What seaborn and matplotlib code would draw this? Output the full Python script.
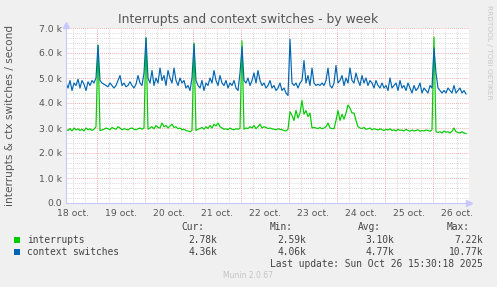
import numpy as np
import pandas as pd
import matplotlib
matplotlib.use("Agg")
import matplotlib.pyplot as plt
from matplotlib.patches import Rectangle
import seaborn as sns

# ---------------- data ----------------
title = "Interrupts and context switches - by week"
ylabel = "interrupts & ctx switches / second"
day_labels = ["18 oct.", "19 oct.", "20 oct.", "21 oct.", "22 oct.",
              "23 oct.", "24 oct.", "25 oct.", "26 oct."]
series_names = ["interrupts", "context switches"]
series_colors = ["#00cc00", "#0066b3"]
ytick_values = [0, 1000, 2000, 3000, 4000, 5000, 6000, 7000]
ytick_labels = ["0.0", "1.0 k", "2.0 k", "3.0 k", "4.0 k", "5.0 k", "6.0 k", "7.0 k"]

# hourly samples (thousands / s), starting 18 oct 08:30
interrupts_k = (
    [2.95, 2.9, 2.98, 2.88, 3.0, 2.92, 2.97, 2.9, 2.95, 2.88, 3.0, 2.93, 2.97, 2.9, 2.95, 3.05]
    + [6.32, 2.9]
    + [2.92, 2.95, 3.0, 2.97, 2.93, 3.02, 2.98, 2.95, 3.05, 3.0, 2.93, 2.97, 2.95, 2.92, 2.98, 3.0,
       2.95, 2.93, 2.97, 3.0, 2.95, 3.0]
    + [6.61, 2.95]
    + [3.0, 3.05, 2.97, 3.1, 3.02, 3.0, 3.2, 3.05, 3.1, 3.0, 3.08, 3.15, 3.02, 3.05, 2.97, 3.0,
       2.93, 2.95, 2.9, 2.88, 2.85, 2.9]
    + [6.4, 2.9]
    + [2.95, 2.98, 3.02, 2.95, 3.05, 2.98, 3.1, 3.0, 3.15, 3.08, 3.2, 3.05, 3.0, 2.95, 2.97, 2.93,
       3.0, 2.95, 2.93, 2.97, 2.95, 2.98]
    + [6.48, 2.95]
    + [3.0, 2.98, 3.05, 3.0, 3.1, 2.97, 3.05, 3.15, 3.0, 3.05, 3.02, 2.98, 3.0, 2.97, 2.95, 2.93,
       2.97, 2.95, 2.93, 2.9, 2.88, 2.95]
    + [3.65, 3.5, 3.3, 3.7, 3.4, 3.6, 4.1, 3.55, 3.7, 3.45, 3.6, 3.0]
    + [3.02, 3.0, 2.98, 3.02, 2.97, 3.0, 3.05, 3.2, 3.0, 2.98, 2.97]
    + [3.3, 3.7, 3.3, 3.55, 3.35, 3.6, 3.92, 3.8, 3.6, 3.6, 3.3, 3.05]
    + [3.0, 2.98, 3.02, 2.95, 2.97, 3.0, 2.93, 2.97, 2.95, 2.92, 2.97, 2.93, 2.9, 2.95, 2.92, 2.97,
       2.9, 2.93, 2.88, 2.95, 2.9, 2.92, 2.88, 2.95, 2.9, 2.87, 2.92, 2.88, 2.9, 2.93, 2.87, 2.9,
       2.88, 2.92, 2.9, 2.87, 2.93]
    + [6.64, 2.85]
    + [2.82, 2.85, 2.8, 2.88, 2.83, 2.85, 2.8, 2.87, 3.0, 2.85, 2.82, 2.8, 2.85, 2.8, 2.78]
)
context_switches_k = (
    [4.8, 4.6, 4.9, 4.5, 4.8, 4.7, 4.95, 4.6, 4.9, 4.75, 4.5, 4.85, 4.7, 4.9, 4.8, 5.0]
    + [6.3, 4.9]
    + [4.8, 4.75, 4.7, 4.65, 4.8, 4.7, 4.6, 4.7, 4.9, 5.1, 4.7, 4.8, 4.65, 4.7, 4.85, 4.7,
       4.6, 4.75, 5.1, 4.8, 4.7, 5.2]
    + [6.6, 5.0]
    + [4.8, 5.3, 4.7, 5.0, 4.8, 5.4, 4.9, 5.1, 4.7, 5.3, 5.0, 4.8, 5.4, 4.9, 4.7, 5.0,
       4.8, 4.9, 4.6, 4.7, 4.5, 5.0]
    + [6.35, 4.9]
    + [4.7, 4.6, 4.9, 4.5, 4.8, 4.7, 5.0, 4.8, 5.3, 4.9, 4.7, 5.1, 4.8, 4.7, 4.9, 4.6,
       4.8, 4.7, 4.9, 4.6, 4.5, 5.2]
    + [6.25, 4.9]
    + [4.8, 5.0, 4.7, 4.9, 5.2, 4.8, 5.3, 4.9, 4.7, 4.8, 4.6, 4.7, 4.9, 4.6, 4.7, 4.5,
       4.6, 4.8, 4.5, 4.6, 4.4, 4.3]
    + [6.55, 4.8]
    + [4.7, 4.8, 4.6, 4.8, 4.9, 5.7, 4.8, 5.1, 4.7, 5.4, 4.8, 4.7, 4.75, 4.7, 4.8, 4.7,
       4.9, 5.4, 4.7, 4.6, 4.8, 5.5]
    + [4.8, 4.9, 5.1, 4.7, 5.0, 4.8, 5.4, 4.9, 4.8, 5.2, 4.9, 4.7, 5.1, 4.8, 5.0, 4.7,
       4.9, 4.8, 4.6, 4.9, 4.7, 4.6, 4.8, 4.6]
    + [4.7, 4.5, 5.0, 4.6, 4.7, 4.8, 4.5, 4.9, 4.6, 4.7, 4.5, 4.8, 4.6, 4.4, 4.7, 4.5,
       4.6, 4.8, 4.4, 4.6, 4.5, 4.4, 4.7, 4.6]
    + [6.2, 5.2, 4.6]
    + [4.5, 4.4, 4.5, 4.4, 4.6, 4.5, 4.4, 4.7, 4.4, 4.5, 4.6, 4.4, 4.5, 4.36]
)
stat_cur = ["2.78k", "4.36k"]
stat_min = ["2.59k", "4.06k"]
stat_avg = ["3.10k", "4.77k"]
stat_max = ["7.22k", "10.77k"]
last_update = "Last update: Sun Oct 26 15:30:18 2025"
footer = "Munin 2.0.67"
side_text = "RRDTOOL / TOBI OETIKER"

start_day = 8.5 / 24.0          # 18 oct 08:30, in days since 18 oct 00:00
step_day = 1.0 / 24.0

# ---------------- build frame ----------------
n = min(len(interrupts_k), len(context_switches_k))
t = start_day + step_day * np.arange(n)
df = pd.concat([
    pd.DataFrame({"t": t, "v": np.array(interrupts_k[:n]) * 1000, "s": series_names[0]}),
    pd.DataFrame({"t": t, "v": np.array(context_switches_k[:n]) * 1000, "s": series_names[1]}),
])

W, H = 497, 287
fig = plt.figure(figsize=(W / 100, H / 100), dpi=100, facecolor="#f0f0f0")
L, R, T, B = 66, 469, 28, 203
ax = fig.add_axes([L / W, 1 - B / H, (R - L) / W, (B - T) / H])
ax.set_facecolor("white")

def fx(x):
    return x / W

def fy(y):
    return 1 - y / H

# grid
x0, x1 = start_day, start_day + (R - L) / 48.0
ax.set_xlim(x0, x1)
ax.set_ylim(0, 7000)
for xv in np.arange(0.5, 9.0, 0.25):
    if x0 < xv < x1 and abs(xv - round(xv)) > 1e-6:
        ax.axvline(xv, color="#cccccc", lw=0.6, ls=(0, (1, 1.5)), zorder=0)
for yv in np.arange(200, 7001, 200):
    if yv % 1000:
        ax.axhline(yv, color="#cccccc", lw=0.6, ls=(0, (1, 1.5)), zorder=0)
for xv in range(1, 9):
    ax.axvline(xv, color="#e69090", lw=0.6, ls=(0, (1, 1.5)), zorder=0.5)
for yv in range(1000, 7001, 1000):
    ax.axhline(yv, color="#e69090", lw=0.6, ls=(0, (1, 1.5)), zorder=0.5)

sns.lineplot(data=df, x="t", y="v", hue="s", hue_order=series_names,
             palette=series_colors, linewidth=0.85, ax=ax, legend=False,
             estimator=None, sort=False)

for sp in ["top", "right"]:
    ax.spines[sp].set_visible(False)
for sp in ["left", "bottom"]:
    ax.spines[sp].set_color("#c8c8ff")
    ax.spines[sp].set_linewidth(0.8)
# axis arrows
ax.plot([1.0], [0], marker=">", color="#c8c8ff", markersize=4, transform=ax.transAxes, clip_on=False)
ax.plot([0], [1.02], marker="^", color="#c8c8ff", markersize=4, transform=ax.transAxes, clip_on=False)

ax.set_xticks(np.arange(0.5, 9.0, 1.0))
ax.set_xticklabels(day_labels)
ax.set_yticks(ytick_values)
ax.set_yticklabels(ytick_labels)
ax.tick_params(axis="both", length=0, labelsize=6.7, colors="#555555")
ax.tick_params(axis="x", pad=4.5)
ax.tick_params(axis="y", pad=3)
ax.set_xlabel("")
ax.set_ylabel("")

# titles
fig.text(fx(248), fy(19), title, ha="center", va="center", fontsize=8.9, color="#555555")
fig.text(fx(10), fy(115), ylabel, ha="center", va="center", rotation=90, fontsize=7.6, color="#555555")
fig.text(fx(489), fy(5), side_text, ha="center", va="top", rotation=270, fontsize=5.3, color="#c8c8c8")

# legend
mono = dict(family="DejaVu Sans Mono", fontsize=6.9, color="#444444")
row_y = [240, 252]
fig.text(fx(204), fy(227), "Cur:", ha="right", va="center", **mono)
fig.text(fx(293), fy(227), "Min:", ha="right", va="center", **mono)
fig.text(fx(381), fy(227), "Avg:", ha="right", va="center", **mono)
fig.text(fx(470), fy(227), "Max:", ha="right", va="center", **mono)
for i, name in enumerate(series_names):
    y = row_y[i]
    fig.patches.append(Rectangle((fx(14), fy(y + 3)), 6 / W, 6 / H, transform=fig.transFigure,
                                 facecolor=series_colors[i], edgecolor="none"))
    fig.text(fx(27), fy(y), name, ha="left", va="center", **mono)
    fig.text(fx(217), fy(y), stat_cur[i], ha="right", va="center", **mono)
    fig.text(fx(306), fy(y), stat_min[i], ha="right", va="center", **mono)
    fig.text(fx(394), fy(y), stat_avg[i], ha="right", va="center", **mono)
    fig.text(fx(483), fy(y), stat_max[i], ha="right", va="center", **mono)
fig.text(fx(483), fy(264), last_update, ha="right", va="center", **mono)
fig.text(fx(248), fy(276), footer, ha="center", va="center", fontsize=5.5, color="#c4c4c4")

fig.savefig("out.png", dpi=100, facecolor=fig.get_facecolor())
